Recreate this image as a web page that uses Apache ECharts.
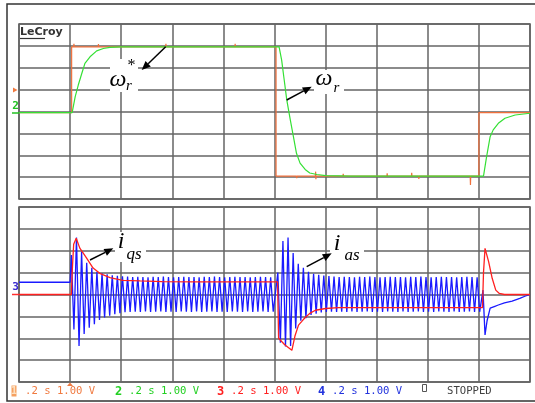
<!DOCTYPE html>
<html><head><meta charset="utf-8">
<script src="https://cdn.jsdelivr.net/npm/echarts@6/dist/echarts.min.js"></script>
<style>html,body{margin:0;padding:0;background:#fff;}#c{width:535px;height:403px;}</style>
</head><body><div id="c"></div>
<script>
// Time in seconds (0.2 s/div), amplitude in divisions (1.00 V/div)
const timeRange = [0, 2];
const timeStep = 0.2;
const divRange = [-4, 4];

// Panel 1: speed reference (orange) and actual speed (green)
const speedRef = [[0,-0.05],[0.206,-0.05],[0.206,2.95],[0.214,2.95],[0.215,3.1],[0.216,2.95],[0.31,2.95],[0.311,3.08],[0.312,2.95],[0.574,2.95],[0.575,3.1],[0.576,2.95],[0.845,2.95],[0.846,3.1],[0.847,2.95],[1.006,2.95],[1.006,-2.95],[1.086,-2.95],[1.087,-3.05],[1.088,-2.95],[1.16,-2.95],[1.161,-2.75],[1.162,-3.1],[1.163,-2.95],[1.268,-2.95],[1.269,-2.85],[1.27,-2.95],[1.44,-2.95],[1.441,-2.82],[1.442,-2.95],[1.536,-2.95],[1.537,-2.8],[1.538,-2.95],[1.564,-2.95],[1.565,-3.08],[1.566,-2.95],[1.766,-2.95],[1.767,-3.36],[1.768,-2.95],[1.8,-2.95],[1.8,-0.05],[2,-0.05]];
const speedAct = [[0,-0.05],[0.208,-0.05],[0.22,0.68],[0.232,1.21],[0.246,1.75],[0.258,2.2],[0.278,2.5],[0.304,2.77],[0.33,2.88],[0.356,2.93],[0.4,2.95],[1.018,2.95],[1.028,2.35],[1.038,1.44],[1.048,0.53],[1.062,-0.39],[1.074,-1.15],[1.086,-1.91],[1.1,-2.36],[1.12,-2.65],[1.138,-2.81],[1.166,-2.88],[1.2,-2.93],[1.3,-2.95],[1.818,-2.95],[1.83,-2.07],[1.844,-1.15],[1.856,-0.84],[1.876,-0.54],[1.902,-0.31],[1.942,-0.16],[2,-0.08]];

// Panel 2: q-axis current (red)
const iqs = [[0,0],[0.205,0],[0.208,1.0],[0.214,2.3],[0.224,2.57],[0.238,2.12],[0.264,1.67],[0.29,1.21],[0.316,0.97],[0.356,0.77],[0.406,0.65],[0.474,0.62],[0.56,0.59],[0.7,0.58],[0.85,0.58],[1.012,0.58],[1.016,-2.0],[1.04,-2.3],[1.068,-2.55],[1.08,-1.9],[1.094,-1.4],[1.106,-1.24],[1.12,-1.05],[1.14,-0.85],[1.16,-0.72],[1.2,-0.64],[1.25,-0.6],[1.4,-0.6],[1.6,-0.6],[1.814,-0.6],[1.818,1.0],[1.824,2.11],[1.838,1.5],[1.852,0.74],[1.866,0.2],[1.88,0.05],[1.9,0],[2,0]];

// Panel 2: phase current (blue) — per-cycle peaks
const iasStart = [[0,0.56],[0.2,0.56]];
const iasPeriod = 0.02;
const iasStartA = 0.2;
const iasUpperA = [1.8,2.6,1.95,1.45,1.22,1.04,0.97,0.92,0.88,0.85,0.83,0.82,0.8,0.81,0.8,0.79,0.81,0.8,0.82,0.8,0.79,0.8,0.81,0.8,0.8,0.79,0.81,0.8,0.82,0.8,0.79,0.8,0.81,0.8,0.8,0.79,0.8,0.81,0.8,0.79];
const iasLowerA = [-1.6,-2.35,-1.8,-1.52,-1.36,-1.16,-1.05,-0.97,-0.9,-0.85,-0.81,-0.8,-0.79,-0.8,-0.78,-0.8,-0.79,-0.78,-0.8,-0.79,-0.8,-0.78,-0.79,-0.8,-0.78,-0.8,-0.79,-0.78,-0.8,-0.79,-0.8,-0.78,-0.79,-0.8,-0.78,-0.8,-0.79,-0.78,-0.8,-0.79];
const iasStartB = 1.008;
const iasUpperB = [1.0,2.45,2.6,1.9,1.4,1.22,1.04,0.95,0.9,0.87,0.84,0.82,0.8,0.81,0.8,0.79,0.81,0.8,0.82,0.8,0.79,0.8,0.81,0.8,0.8,0.79,0.81,0.8,0.82,0.8,0.79,0.8,0.81,0.8,0.8,0.79,0.8,0.81,0.8,0.79];
const iasLowerB = [-2.2,-2.38,-2.35,-1.55,-1.2,-1.08,-0.94,-0.88,-0.82,-0.8,-0.79,-0.8,-0.79,-0.8,-0.78,-0.8,-0.79,-0.78,-0.8,-0.79,-0.8,-0.78,-0.79,-0.8,-0.78,-0.8,-0.79,-0.78,-0.8,-0.79,-0.8,-0.78,-0.79,-0.8,-0.78,-0.8,-0.79,-0.78,-0.8,-0.79];
const iasTail = [[1.816,0.2],[1.824,-1.85],[1.832,-1.2],[1.844,-0.62],[1.86,-0.55],[1.876,-0.48],[1.9,-0.38],[1.93,-0.3],[1.96,-0.18],[1.98,-0.08],[2,0]];

const statusGroups = [
  {num:'1', text:'.2 s 1.00 V', color:'#f07a40'},
  {num:'2', text:'.2 s 1.00 V', color:'#22d022'},
  {num:'3', text:'.2 s 1.00 V', color:'#ff2020'},
  {num:'4', text:'.2 s 1.00 V', color:'#2233dd'}
];

function osc(start, period, up, lo) {
  const pts = [];
  for (let k = 0; k < up.length; k++) {
    pts.push([start + period * (k + 0.25), up[k]]);
    pts.push([start + period * (k + 0.75), lo[k]]);
  }
  return pts;
}
const ias = iasStart.concat(osc(iasStartA, iasPeriod, iasUpperA, iasLowerA), osc(iasStartB, iasPeriod, iasUpperB, iasLowerB), iasTail);

const chart = echarts.init(document.getElementById('c'), null, {renderer:'canvas'});

function axisX(i){return {gridIndex:i,type:'value',min:timeRange[0],max:timeRange[1],interval:timeStep,axisLine:{show:false},axisTick:{show:false},axisLabel:{show:false},splitLine:{show:true,lineStyle:{color:'#646464',width:1.5}}};}
function axisY(i){return {gridIndex:i,type:'value',min:divRange[0],max:divRange[1],interval:1,axisLine:{show:false},axisTick:{show:false},axisLabel:{show:false},splitLine:{show:true,lineStyle:{color:'#646464',width:1.5}}};}

const g = [];
function arrow(x1,y1,x2,y2){
  const a = Math.atan2(y2-y1,x2-x1), L=9, W=3.8;
  const bx = x2 - L*Math.cos(a), by = y2 - L*Math.sin(a);
  g.push({type:'line',z:200,shape:{x1:x1,y1:y1,x2:bx,y2:by},style:{stroke:'#000',lineWidth:1.5}});
  g.push({type:'polygon',z:200,shape:{points:[[x2,y2],[bx+W*Math.sin(a),by-W*Math.cos(a)],[bx-W*Math.sin(a),by+W*Math.cos(a)]]},style:{fill:'#000'}});
}
function whiteBox(x,y,w,h){g.push({type:'rect',z:150,shape:{x:x,y:y,width:w,height:h},style:{fill:'#fff'}});}
function txt(s,x,y,size,opt){
  opt = opt||{};
  g.push({type:'text',z:210,x:x,y:y,style:{text:s,fill:opt.color||'#000',font:(opt.style||'italic')+' '+(opt.weight||'normal')+' '+size+'px '+(opt.family||'"Liberation Serif", serif'),textAlign:opt.align||'center',textVerticalAlign:'middle'}});
}

// outer frame
g.push({type:'rect',z:1,shape:{x:7,y:4,width:540,height:397},style:{fill:'none',stroke:'#333',lineWidth:1.5}});
// LeCroy logo
txt('LeCroy',20,32,11,{style:'normal',weight:'bold',family:'"DejaVu Sans", sans-serif',align:'left',color:'#333'});
g.push({type:'line',z:210,shape:{x1:20,y1:38.5,x2:45,y2:38.5},style:{stroke:'#333',lineWidth:1.2}});

// labels
whiteBox(110,59,28,33);
txt('\u03c9',118,80,24); txt('*',131.5,66,16,{style:'normal'}); txt('r',129,86,15);
arrow(165.7,46.7,141.7,70);

whiteBox(314,70,30,24);
txt('\u03c9',324,79,24); txt('r',336.5,88,15);
arrow(286.7,100,311.7,86.7);

whiteBox(115,232,31,30);
txt('i',121,242,24); txt('qs',134,255,17);
arrow(90,260,113.3,248.3);

whiteBox(330,236,34,28);
txt('i',337,244,24); txt('as',352,256,17);
arrow(306.7,266.7,331.7,253.3);

// channel markers
g.push({type:'polygon',z:210,shape:{points:[[13,87.5],[13,92.5],[17.5,90]]},style:{fill:'#f07a40'}});
txt('2',15.5,106,11,{style:'normal',weight:'bold',family:'"DejaVu Sans Mono", monospace',color:'#22c022'});
g.push({type:'line',z:210,shape:{x1:12,y1:113,x2:19,y2:113},style:{stroke:'#22c022',lineWidth:1.5}});
txt('3',15.5,287,11,{style:'normal',weight:'bold',family:'"DejaVu Sans Mono", monospace',color:'#3a2ad0'});
g.push({type:'line',z:210,shape:{x1:12,y1:294.5,x2:19,y2:294.5},style:{stroke:'#ff3030',lineWidth:1.5}});
g.push({type:'polygon',z:210,shape:{points:[[67,386],[73,386],[70,382.5]]},style:{fill:'#f07a40'}});

// status bar
const sx = [12, 116, 218, 319];
statusGroups.forEach((s,i)=>{
  if (i===0) {
    g.push({type:'rect',z:205,shape:{x:sx[i]-0.5,y:385.5,width:5,height:11},style:{fill:'#f5a060'}});
    txt(s.num,sx[i]+2,391.5,11,{style:'normal',weight:'bold',family:'"DejaVu Sans Mono", monospace',color:'#fde0c0'});
  } else {
    txt(s.num,sx[i]+2.5,391.5,12,{style:'normal',weight:'bold',family:'"DejaVu Sans Mono", monospace',color:s.color});
  }
  txt(s.text,sx[i]+13,391.5,10.6,{style:'normal',family:'"DejaVu Sans Mono", monospace',align:'left',color:s.color});
});
g.push({type:'rect',z:205,shape:{x:422.5,y:384.5,width:4,height:7},style:{fill:'none',stroke:'#555',lineWidth:1}});
txt('STOPPED',447,391.5,10.6,{style:'normal',family:'"DejaVu Sans Mono", monospace',align:'left',color:'#404040'});

chart.setOption({
  animation:false,
  backgroundColor:'#fff',
  grid:[
    {left:19,top:24,width:511,height:175,show:true,borderColor:'#555',borderWidth:1.5,backgroundColor:'#fff'},
    {left:19,top:207,width:511,height:175,show:true,borderColor:'#555',borderWidth:1.5,backgroundColor:'#fff'}
  ],
  xAxis:[axisX(0),axisX(1)],
  yAxis:[axisY(0),axisY(1)],
  series:[
    {type:'line',xAxisIndex:0,yAxisIndex:0,data:speedRef,symbol:'none',lineStyle:{color:'#f0703c',width:1.2},z:3},
    {type:'line',xAxisIndex:0,yAxisIndex:0,data:speedAct,symbol:'none',lineStyle:{color:'#35e035',width:1.2},z:4},
    {type:'line',xAxisIndex:1,yAxisIndex:1,data:ias,symbol:'none',lineStyle:{color:'#1a1aff',width:1.3},z:3},
    {type:'line',xAxisIndex:1,yAxisIndex:1,data:iqs,symbol:'none',lineStyle:{color:'#ff2020',width:1.3},z:4}
  ],
  graphic:g
});
</script></body></html>
